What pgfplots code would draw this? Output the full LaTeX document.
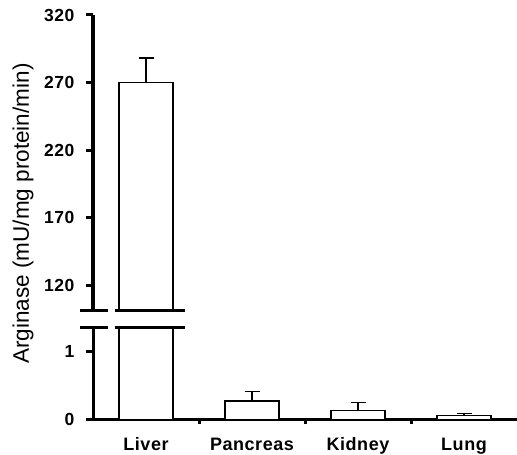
\documentclass[border=0pt]{standalone}
\usepackage{pgfplots}
\pgfplotsset{compat=1.18}
\usepackage{fontspec}
\setmainfont{Liberation Sans}
\newfontfamily\lsbold[LetterSpace=3]{Liberation Sans Bold}
\pgfplotsset{
 barstyle/.style={draw=black, fill=white, line width=1.2bp},
 common/.style={
  scale only axis, width=424bp, xmin=-0.5, xmax=3.5,
  axis line style={line width=3bp},
  major tick style={line width=3bp, black},
  tick align=outside,
  major tick length=7bp,
  yticklabel style={font=\lsbold\fontsize{17.5bp}{17.5bp}\selectfont, anchor=east, xshift=-8bp},
  ybar, bar width=0.51, bar shift=0pt,
  error bars/y dir=plus, error bars/y explicit,
  error bars/error mark options={rotate=90, mark size=7.5bp, line width=1.5bp, black},
  error bars/error bar style={line width=1.5bp, black},
 }
}
\begin{document}
\begin{tikzpicture}
\useasboundingbox (0,0) rectangle (517bp,455bp);
% upper part
\begin{axis}[common, at={(93bp,144.3bp)}, anchor=south west, height=295.7bp,
  ymin=101, ymax=320, ytick={120,170,220,270,320},
  yticklabels={120,170,220,270,320},
  axis y line*=left, axis x line=none, xtick=\empty]
\addplot[barstyle] coordinates {(0,270) +- (0,18)};
\end{axis}
% lower part
\begin{axis}[common, at={(93bp,35.7bp)}, anchor=south west, height=91.3bp,
  ymin=0, ymax=1.35, ytick={0,1}, yticklabels={0,1},
  axis y line*=left, axis x line*=bottom,
  xtick={0,1,2,3}, xticklabels={Liver,Pancreas,Kidney,Lung},
  xtick style={draw=none},
  xticklabel style={font=\lsbold\fontsize{18bp}{18bp}\selectfont, yshift=-8bp},
  extra x ticks={0.5,1.5,2.5}, extra x tick labels={},
  extra x tick style={xtick style={draw=black}, major tick length=5bp}]
\addplot[barstyle, restrict y to domain*=0:2] coordinates {(0,270)};
\addplot[barstyle] coordinates {(1,0.27) +- (0,0.14) (2,0.135) +- (0,0.11) (3,0.053) +- (0,0.03)};
\end{axis}
% axis break marks
\foreach \yy in {144.3bp,127bp}{
  \draw[line width=3bp] (80bp,\yy) -- (108bp,\yy);
  \draw[line width=3bp] (115bp,\yy) -- (185bp,\yy);
}
\node[rotate=90, inner sep=0pt, font=\fontsize{22.5bp}{22.5bp}\selectfont] at (23bp,241.5bp) {Arginase (mU/mg protein/min)};
\end{tikzpicture}
\end{document}
